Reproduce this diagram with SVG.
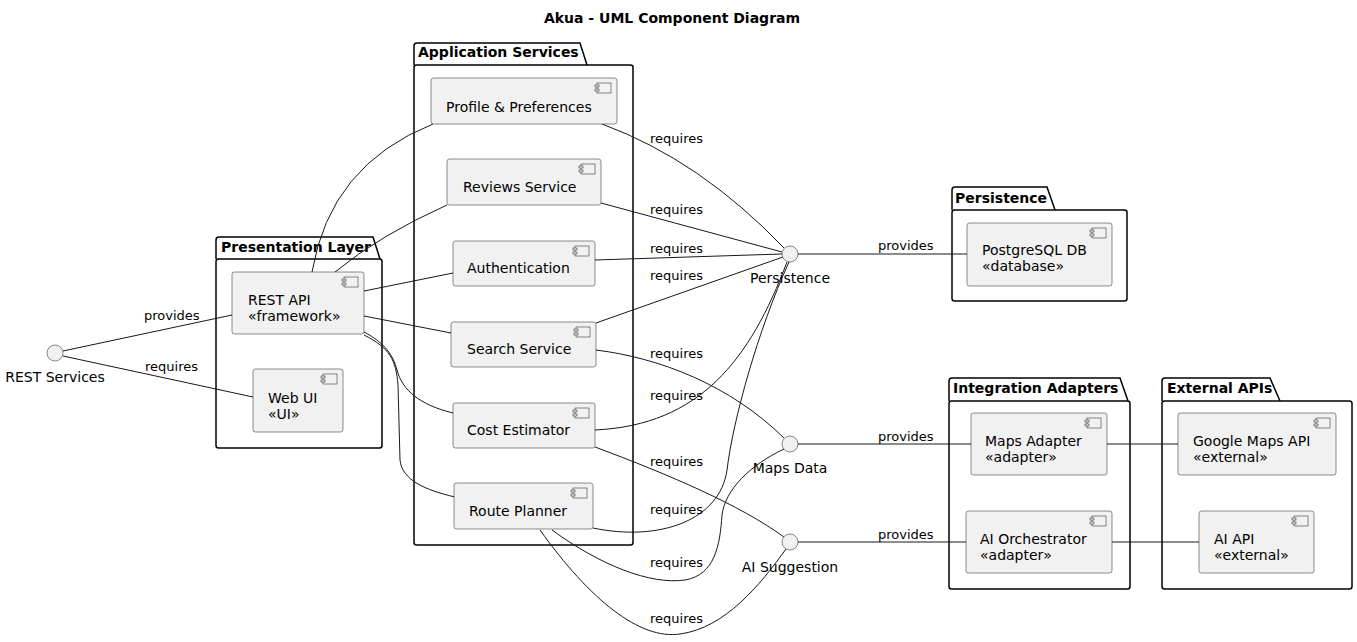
<svg xmlns="http://www.w3.org/2000/svg" width="1357" height="642" viewBox="0 0 1357 642">
<defs>
<style>
text{font-family:"DejaVu Sans","Liberation Sans",sans-serif;fill:#000}
.title{font-size:14px;font-weight:bold}
.pkg{fill:none;stroke:#000;stroke-width:1.5}
.pkgl{font-size:14px;font-weight:bold}
.comp{fill:#F1F1F1;stroke:#181818;stroke-width:0.5}
.ct{font-size:14px}
.lbl{font-size:13px}
.iface{fill:#F1F1F1;stroke:#181818;stroke-width:0.5}
.conn path,.conn line{fill:none;stroke:#181818;stroke-width:1}
</style>
<g id="icon">
<rect x="-20" y="5" width="14" height="10" fill="#F1F1F1" stroke="#181818" stroke-width="0.5"/>
<rect x="-22" y="7" width="4" height="2" fill="#F1F1F1" stroke="#181818" stroke-width="0.5"/>
<rect x="-22" y="11" width="4" height="2" fill="#F1F1F1" stroke="#181818" stroke-width="0.5"/>
</g>
</defs>
<rect width="1357" height="642" fill="#fff"/>
<text class="title" x="672" y="23" text-anchor="middle">Akua - UML Component Diagram</text>

<!-- Packages -->
<g id="pkg-presentation">
<path class="pkg" d="M216,259 L216,240 Q216,237 219,237 L373,237 L380,259"/>
<rect class="pkg" x="216" y="259" width="166" height="189" rx="2.5"/>
<text class="pkgl" x="221" y="252">Presentation Layer</text>
</g>
<g id="pkg-application">
<path class="pkg" d="M414,65 L414,46 Q414,43 417,43 L580,43 L587,65"/>
<rect class="pkg" x="414" y="65" width="219" height="480" rx="2.5"/>
<text class="pkgl" x="418" y="57">Application Services</text>
</g>
<g id="pkg-persistence">
<path class="pkg" d="M952,210 L952,190 Q952,187 955,187 L1047,187 L1055,210"/>
<rect class="pkg" x="952" y="210" width="175" height="91" rx="2.5"/>
<text class="pkgl" x="955" y="203">Persistence</text>
</g>
<g id="pkg-integration">
<path class="pkg" d="M949,401 L949,381 Q949,378 952,378 L1120,378 L1128,401"/>
<rect class="pkg" x="949" y="401" width="181" height="188" rx="2.5"/>
<text class="pkgl" x="953" y="393">Integration Adapters</text>
</g>
<g id="pkg-external">
<path class="pkg" d="M1162,401 L1162,381 Q1162,378 1165,378 L1270,378 L1280,401"/>
<rect class="pkg" x="1162" y="401" width="190" height="188" rx="2.5"/>
<text class="pkgl" x="1167" y="393">External APIs</text>
</g>

<!-- Connectors -->
<g id="connectors" class="conn">
<line x1="63" y1="351" x2="232" y2="315"/>
<line x1="63" y1="356" x2="253" y2="397"/>
<path d="M312,272 Q330,165 433,124"/>
<path d="M335,272 Q380,235 447,205"/>
<line x1="364" y1="291" x2="453" y2="273"/>
<line x1="364" y1="316" x2="451" y2="333"/>
<path d="M364,332 C385,343 393,355 397,370 C402,390 420,405 453,413"/>
<path d="M364,335 C390,348 396,360 398,385 L400,460 C402,480 425,490 455,497"/>
<path d="M602,124 Q700,160 784,248"/>
<line x1="601" y1="203" x2="782" y2="252"/>
<line x1="595" y1="260" x2="782" y2="254"/>
<line x1="596" y1="323" x2="783" y2="257"/>
<path d="M596,350 C660,358 730,385 784,438"/>
<path d="M595,430 C700,425 750,360 787,262"/>
<path d="M595,447 C670,475 740,505 784,537"/>
<path d="M593,528 C660,542 720,520 727,470 C733,420 758,330 789,262"/>
<path d="M552,530 C600,565 650,585 685,580 C715,575 720,545 722,515 C725,490 750,465 784,449"/>
<path d="M540,530 C590,600 640,640 680,634 C725,628 760,585 786,549"/>
<line x1="798" y1="254" x2="967" y2="254"/>
<line x1="798" y1="444" x2="971" y2="444"/>
<line x1="798" y1="542" x2="966" y2="542"/>
<line x1="1107" y1="444" x2="1178" y2="444"/>
<line x1="1112" y1="542" x2="1199" y2="542"/>
<text class="lbl" x="144" y="320">provides</text>
<text class="lbl" x="145" y="371">requires</text>
<text class="lbl" x="650" y="143">requires</text>
<text class="lbl" x="650" y="214">requires</text>
<text class="lbl" x="650" y="253">requires</text>
<text class="lbl" x="650" y="280">requires</text>
<text class="lbl" x="650" y="358">requires</text>
<text class="lbl" x="650" y="400">requires</text>
<text class="lbl" x="650" y="466">requires</text>
<text class="lbl" x="650" y="514">requires</text>
<text class="lbl" x="650" y="567">requires</text>
<text class="lbl" x="650" y="623">requires</text>
<text class="lbl" x="878" y="250">provides</text>
<text class="lbl" x="878" y="441">provides</text>
<text class="lbl" x="878" y="539">provides</text>
</g>

<!-- Interfaces -->
<g id="if-rest">
<circle class="iface" cx="55" cy="353" r="8"/>
<text class="ct" x="55" y="382" text-anchor="middle">REST Services</text>
</g>
<g id="if-persistence">
<circle class="iface" cx="790" cy="254" r="8"/>
<text class="ct" x="790" y="283" text-anchor="middle">Persistence</text>
</g>
<g id="if-maps">
<circle class="iface" cx="790" cy="444" r="8"/>
<text class="ct" x="790" y="473" text-anchor="middle">Maps Data</text>
</g>
<g id="if-ai">
<circle class="iface" cx="790" cy="542" r="8"/>
<text class="ct" x="790" y="572" text-anchor="middle">AI Suggestion</text>
</g>

<!-- Components -->
<g id="rest-api">
<rect class="comp" x="232" y="272" width="132" height="62" rx="2.5"/>
<use href="#icon" x="364" y="272"/>
<text class="ct" x="248" y="305">REST API</text>
<text class="ct" x="248" y="321">«framework»</text>
</g>
<g id="web-ui">
<rect class="comp" x="253" y="369" width="90" height="63" rx="2.5"/>
<use href="#icon" x="343" y="369"/>
<text class="ct" x="268" y="403">Web UI</text>
<text class="ct" x="268" y="419">«UI»</text>
</g>
<g id="profile">
<rect class="comp" x="431" y="78" width="186" height="46" rx="2.5"/>
<use href="#icon" x="617" y="78"/>
<text class="ct" x="446" y="112">Profile &amp; Preferences</text>
</g>
<g id="reviews">
<rect class="comp" x="447" y="159" width="154" height="46" rx="2.5"/>
<use href="#icon" x="601" y="159"/>
<text class="ct" x="463" y="192">Reviews Service</text>
</g>
<g id="auth">
<rect class="comp" x="453" y="241" width="142" height="45" rx="2.5"/>
<use href="#icon" x="595" y="241"/>
<text class="ct" x="467" y="273">Authentication</text>
</g>
<g id="search">
<rect class="comp" x="451" y="322" width="145" height="45" rx="2.5"/>
<use href="#icon" x="596" y="322"/>
<text class="ct" x="467" y="354">Search Service</text>
</g>
<g id="cost">
<rect class="comp" x="453" y="403" width="142" height="45" rx="2.5"/>
<use href="#icon" x="595" y="403"/>
<text class="ct" x="467" y="435">Cost Estimator</text>
</g>
<g id="route">
<rect class="comp" x="454" y="483" width="139" height="46" rx="2.5"/>
<use href="#icon" x="593" y="483"/>
<text class="ct" x="469" y="516">Route Planner</text>
</g>
<g id="postgres">
<rect class="comp" x="967" y="223" width="145" height="63" rx="2.5"/>
<use href="#icon" x="1112" y="223"/>
<text class="ct" x="982" y="255">PostgreSQL DB</text>
<text class="ct" x="982" y="271">«database»</text>
</g>
<g id="maps-adapter">
<rect class="comp" x="971" y="413" width="136" height="62" rx="2.5"/>
<use href="#icon" x="1107" y="413"/>
<text class="ct" x="985" y="446">Maps Adapter</text>
<text class="ct" x="985" y="462">«adapter»</text>
</g>
<g id="ai-orchestrator">
<rect class="comp" x="966" y="511" width="146" height="62" rx="2.5"/>
<use href="#icon" x="1112" y="511"/>
<text class="ct" x="980" y="544">AI Orchestrator</text>
<text class="ct" x="980" y="560">«adapter»</text>
</g>
<g id="google-maps">
<rect class="comp" x="1178" y="413" width="158" height="62" rx="2.5"/>
<use href="#icon" x="1336" y="413"/>
<text class="ct" x="1193" y="446">Google Maps API</text>
<text class="ct" x="1193" y="462">«external»</text>
</g>
<g id="ai-api">
<rect class="comp" x="1199" y="511" width="115" height="62" rx="2.5"/>
<use href="#icon" x="1314" y="511"/>
<text class="ct" x="1214" y="544">AI API</text>
<text class="ct" x="1214" y="560">«external»</text>
</g>
</svg>
